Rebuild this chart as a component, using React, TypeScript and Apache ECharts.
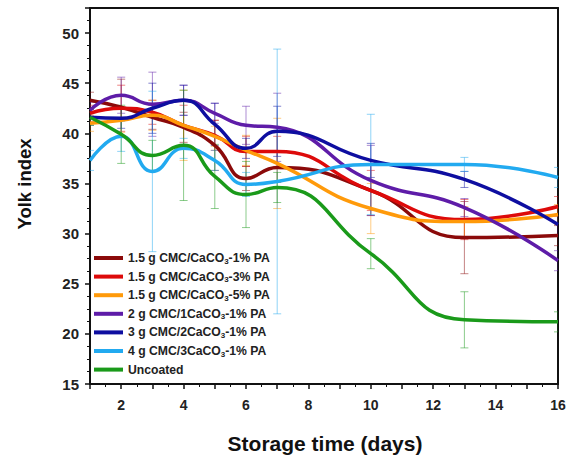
import React, { useEffect, useRef } from "react";
import * as echarts from "echarts";

const days = [1, 2, 3, 4, 5, 6, 7, 10, 13, 16];

const seriesNames = [
  "1.5 g CMC/CaCO3-1% PA",
  "1.5 g CMC/CaCO3-3% PA",
  "1.5 g CMC/CaCO3-5% PA",
  "2 g CMC/1CaCO3-1% PA",
  "3 g CMC/2CaCO3-1% PA",
  "4 g CMC/3CaCO3-1% PA",
  "Uncoated",
];

const colors = ["#8B0A0A", "#DD0A0A", "#FF9A0A", "#5E1CA8", "#0E0EA0", "#22AAF0", "#1A9A1A"];

const maroon = [43.3, 42.6, 41.6, 40.6, 38.8, 35.5, 36.6, 34.3, 29.6, 29.8];
const red = [42.0, 42.5, 42.1, 40.8, 39.8, 38.2, 38.2, 34.3, 31.4, 32.7];
const orange = [41.0, 41.3, 41.8, 40.8, 39.7, 38.3, 37.0, 32.5, 31.2, 31.9];
const purple = [42.3, 43.8, 42.9, 43.3, 42.0, 40.8, 40.6, 35.3, 32.6, 27.3];
const navy = [41.6, 41.5, 42.5, 43.3, 40.9, 38.5, 40.2, 37.3, 35.4, 30.9];
const lightBlue = [37.3, 39.7, 36.2, 38.5, 37.3, 34.9, 35.2, 36.9, 36.9, 35.6];
const green = [41.6, 39.9, 37.8, 38.8, 35.7, 33.9, 34.6, 28.0, 21.4, 21.2];

const maroonErr = [0.8, 2.8, 1.2, 1.5, 2.5, 1.2, 1.5, 2.5, 3.6, 1.0];
const redErr = [0.8, 2.3, 1.2, 2.0, 1.5, 1.5, 1.5, 2.0, 2.0, 1.0];
const orangeErr = [0.8, 1.2, 1.5, 3.5, 1.0, 1.5, 4.5, 2.5, 1.5, 1.0];
const purpleErr = [0.8, 1.8, 3.2, 1.5, 1.0, 1.9, 3.4, 3.5, 0.9, 1.0];
const navyErr = [0.8, 1.0, 2.5, 1.5, 2.1, 1.0, 2.5, 1.7, 0.8, 1.0];
const lightBlueErr = [1.0, 1.5, 8.0, 1.0, 1.0, 1.2, 13.2, 5.0, 0.7, 1.0];
const greenErr = [0.8, 2.9, 1.5, 5.5, 3.2, 3.3, 1.5, 1.5, 2.8, 1.0];

const values = [maroon, red, orange, purple, navy, lightBlue, green];
const errs = [maroonErr, redErr, orangeErr, purpleErr, navyErr, lightBlueErr, greenErr];

const yMin = 15;
const yMax = 52.5;
const xMin = 1;
const xMax = 16;

const FONT = 'Arial, "Liberation Sans", sans-serif';

export default function App() {
  const ref = useRef<HTMLDivElement>(null);

  useEffect(() => {
    if (!ref.current) return;
    const chart = echarts.init(ref.current, undefined, { renderer: "svg" });

    const lineSeries = seriesNames.map((name, i) => ({
      name,
      type: "line",
      smooth: 0.5,
      showSymbol: false,
      symbol: "none",
      z: 3,
      data: days.map((d, j) => [d, values[i][j]]),
      lineStyle: { color: colors[i], width: 3.5 },
      itemStyle: { color: colors[i] },
    }));

    const errSeries = seriesNames.map((name, i) => ({
      name: name + " err",
      type: "custom",
      z: 1,
      clip: true,
      data: days.map((d, j) => [d, values[i][j] - errs[i][j], values[i][j] + errs[i][j]]),
      encode: { x: 0, y: [1, 2] },
      renderItem: (params: any, api: any) => {
        const x = api.value(0);
        const lo = api.value(1);
        const hi = api.value(2);
        const p1 = api.coord([x, hi]);
        const p2 = api.coord([x, lo]);
        const w = 4;
        const style = { stroke: colors[i], lineWidth: 1, opacity: 0.5 };
        return {
          type: "group",
          children: [
            { type: "line", shape: { x1: p1[0], y1: p1[1], x2: p2[0], y2: p2[1] }, style },
            { type: "line", shape: { x1: p1[0] - w, y1: p1[1], x2: p1[0] + w, y2: p1[1] }, style },
            { type: "line", shape: { x1: p2[0] - w, y1: p2[1], x2: p2[0] + w, y2: p2[1] }, style },
          ],
        };
      },
    }));

    const option: any = {
      animation: false,
      backgroundColor: "#ffffff",
      grid: { left: 90, right: 16, top: 8, bottom: 71 },
      legend: {
        data: seriesNames,
        orient: "vertical",
        left: 89,
        top: 247,
        icon: "rect",
        itemWidth: 29,
        itemHeight: 4,
        itemGap: 5.6,
        textStyle: {
          fontFamily: FONT,
          rich: {
            a: { fontSize: 12.2, fontWeight: "bold", color: "#222", fontFamily: FONT, lineHeight: 14 },
            s: { fontSize: 8, fontWeight: "bold", color: "#222", fontFamily: FONT, lineHeight: 8, verticalAlign: "bottom" },
          },
        },
        formatter: (name: string) => {
          const parts = name.split("CaCO3");
          if (parts.length === 2) return `{a|${parts[0]}CaCO}{s|3}{a|${parts[1]}}`;
          return `{a|${name}}`;
        },
      },
      xAxis: [
        {
          type: "value",
          min: xMin,
          max: xMax,
          interval: 1,
          axisLine: { show: true, lineStyle: { color: "#111", width: 2 } },
          axisTick: { show: true, length: 5, lineStyle: { color: "#111", width: 1.5 } },
          minorTick: { show: true, splitNumber: 2, length: 3, lineStyle: { color: "#111", width: 1 } },
          splitLine: { show: false },
          axisLabel: {
            formatter: (v: number) => (v % 2 === 0 ? String(v) : ""),
            fontSize: 14,
            fontWeight: "bold",
            color: "#222",
            fontFamily: FONT,
            margin: 14,
          },
        },
        {
          type: "value",
          position: "top",
          min: xMin,
          max: xMax,
          interval: 1,
          axisLine: { show: true, lineStyle: { color: "#111", width: 2 } },
          axisTick: { show: false },
          axisLabel: { show: false },
          splitLine: { show: false },
        },
      ],
      yAxis: [
        {
          type: "value",
          min: yMin,
          max: yMax,
          interval: 5,
          axisLine: { show: true, lineStyle: { color: "#111", width: 2 } },
          axisTick: { show: true, length: 5, lineStyle: { color: "#111", width: 1.5 } },
          minorTick: { show: true, splitNumber: 4, length: 3, lineStyle: { color: "#111", width: 1 } },
          splitLine: { show: false },
          axisLabel: {
            showMaxLabel: false,
            fontSize: 15,
            fontWeight: "bold",
            color: "#222",
            fontFamily: FONT,
            margin: 11,
          },
        },
        {
          type: "value",
          position: "right",
          min: yMin,
          max: yMax,
          interval: 5,
          axisLine: { show: true, lineStyle: { color: "#111", width: 2 } },
          axisTick: { show: false },
          axisLabel: { show: false },
          splitLine: { show: false },
        },
      ],
      graphic: [
        {
          type: "text",
          x: 24,
          y: 184,
          rotation: Math.PI / 2,
          style: {
            text: "Yolk index",
            fontSize: 18.5,
            fontWeight: "bold",
            fontFamily: FONT,
            fill: "#111",
            textAlign: "center",
            textVerticalAlign: "middle",
          },
        },
        {
          type: "text",
          x: 325,
          y: 443,
          style: {
            text: "Storage time (days)",
            fontSize: 21,
            fontWeight: "bold",
            fontFamily: FONT,
            fill: "#111",
            textAlign: "center",
            textVerticalAlign: "middle",
          },
        },
      ],
      series: [...errSeries, ...lineSeries],
    };

    chart.setOption(option);
    return () => chart.dispose();
  }, []);

  return (
    <div
      ref={ref}
      style={{ position: "fixed", left: 0, top: 0, width: 574, height: 455, background: "#fff" }}
    />
  );
}
